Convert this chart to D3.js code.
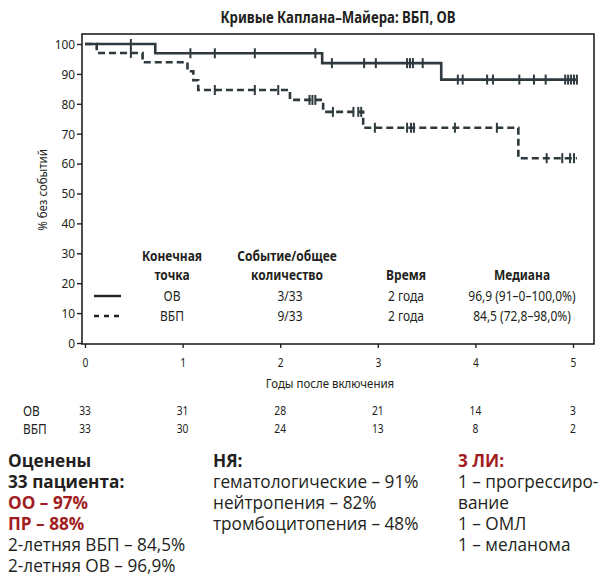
<!DOCTYPE html>
<html lang="ru">
<head>
<meta charset="UTF-8">
<title>Kaplan-Meier</title>
<script src="https://d3js.org/d3.v7.min.js"></script>
<style>
  body { margin: 0; background: #fff; }
  svg { display: block; }
  text { font-family: "Noto Sans", "Open Sans", sans-serif; fill: #231f20; }
  .body { font-family: "Open Sans", "Noto Sans", sans-serif; }
</style>
</head>
<body>
<svg width="601" height="576"></svg>
<script>
// --- data ---
const years = [0, 1, 2, 3, 4, 5];
const yTicks = [0, 10, 20, 30, 40, 50, 60, 70, 80, 90, 100];
const riskRows = ["ОВ", "ВБП"];
const atRiskOS = [33, 31, 28, 21, 14, 3];
const atRiskPFS = [33, 30, 24, 13, 8, 2];

// OS (solid)
const osTimes = [0, 0.72, 2.43, 3.65];
const osSurv = [100, 96.9, 93.6, 88.1];
const osEnd = 5.04;
const osCensor = [0.47, 1.08, 1.33, 1.74, 2.36, 2.53, 2.86, 2.98, 3.30, 3.33, 3.36, 3.46,
  3.82, 3.87, 4.12, 4.18, 4.45, 4.60, 4.72, 4.92, 4.95, 4.98, 5.01, 5.04];

// PFS (dashed)
const pfsTimes = [0, 0.12, 0.59, 1.05, 1.11, 1.16, 2.10, 2.44, 2.85, 4.44];
const pfsSurv = [100, 97.0, 93.9, 90.9, 87.9, 84.6, 81.3, 77.3, 72.0, 61.8];
const pfsEnd = 5.04;
const pfsCensor = [0.47, 1.33, 1.74, 1.98, 2.30, 2.33, 2.36, 2.54, 2.75, 2.80, 2.83, 2.97,
  3.30, 3.34, 3.37, 3.79, 4.22, 4.73, 4.89, 4.97, 5.01];

// legend table
const legHeaders = [["Конечная", "точка"], ["Событие/общее", "количество"], ["", "Время"], ["", "Медиана"]];
const legOS = ["ОВ", "3/33", "2 года", "96,9 (91–0–100,0%)"];
const legPFS = ["ВБП", "9/33", "2 года", "84,5 (72,8–98,0%)"];

// text block under the chart
const col1 = [["Оценены", "b"], ["33 пациента:", "b"], ["ОО – 97%", "r"], ["ПР – 88%", "r"],
  ["2-летняя ВБП – 84,5%", "n"], ["2-летняя ОВ – 96,9%", "n"]];
const col2 = [["НЯ:", "b"], ["гематологические – 91%", "n"], ["нейтропения – 82%", "n"],
  ["тромбоцитопения – 48%", "n"]];
const col3 = [["3 ЛИ:", "r"], ["1 – прогрессиро-", "n"], ["вание", "n"], ["1 – ОМЛ", "n"],
  ["1 – меланома", "n"]];

const ink = "#2f3a3e";
const red = "#a11d22";
const svg = d3.select("svg");

const x = d3.scaleLinear().domain([0, 5]).range([85, 573]);
const y = d3.scaleLinear().domain([0, 100]).range([343, 44]);

// narrow text: the original uses a condensed face, so squeeze a normal one
function ctext(px, py, str, size, k, opts = {}) {
  const t = svg.append("g").attr("transform", `translate(${px},${py})`)
    .append("text").attr("transform", `scale(${k},1)`)
    .attr("text-anchor", opts.anchor || "middle")
    .style("font-size", size + "px")
    .style("font-weight", opts.bold ? "bold" : "normal")
    .text(str);
  if (opts.fill) t.style("fill", opts.fill);
  if (opts.cls) t.attr("class", opts.cls);
  return t;
}

// title
ctext(338, 23, "Кривые Каплана–Майера: ВБП, ОВ", 16.5, 0.8, { bold: true });

// frame
svg.append("rect").attr("x", 82).attr("y", 34).attr("width", 512).attr("height", 310)
  .attr("fill", "none").attr("stroke", "#222").attr("stroke-width", 1.6);

// axes
const yAxis = svg.append("g").attr("transform", "translate(82,0)")
  .call(d3.axisLeft(y).tickValues(yTicks).tickSize(5));
const xAxis = svg.append("g").attr("transform", "translate(0,344)")
  .call(d3.axisBottom(x).tickValues(years).tickFormat(d3.format("d")).tickSize(4));
[yAxis, xAxis].forEach(g => {
  g.select(".domain").remove();
  g.attr("font-family", null).attr("font-size", null);
  g.selectAll("line").attr("stroke", "#222").attr("stroke-width", 1.4);
});
yAxis.selectAll("text").attr("transform", "scale(0.88,1)").attr("x", -7 / 0.88)
  .style("font-size", "13.5px");
xAxis.selectAll("text").attr("transform", "scale(0.85,1)").attr("y", 14)
  .style("font-size", "12px");

const yl = ctext(0, 0, "% без событий", 13.5, 0.85);
d3.select(yl.node().parentNode).attr("transform", "translate(47,190) rotate(-90)");
ctext(330, 388, "Годы после включения", 13.5, 0.85);

// curves
function stepData(times, surv, end) {
  const pts = times.map((t, i) => [t, surv[i]]);
  pts.push([end, surv[surv.length - 1]]);
  return pts;
}
function survAt(times, surv, t) {
  return surv[d3.bisectRight(times, t) - 1];
}
const line = d3.line().x(d => x(d[0])).y(d => y(d[1])).curve(d3.curveStepAfter);

const curves = [
  { times: osTimes, surv: osSurv, end: osEnd, cens: osCensor, dash: null },
  { times: pfsTimes, surv: pfsSurv, end: pfsEnd, cens: pfsCensor, dash: "7,4" }
];
curves.forEach(c => {
  svg.append("path").datum(stepData(c.times, c.surv, c.end))
    .attr("d", line).attr("fill", "none").attr("stroke", ink)
    .attr("stroke-width", 2.6).attr("stroke-dasharray", c.dash);
  svg.append("g").selectAll("line").data(c.cens).join("line")
    .attr("x1", d => x(d)).attr("x2", d => x(d))
    .attr("y1", d => y(survAt(c.times, c.surv, d)) - 5)
    .attr("y2", d => y(survAt(c.times, c.surv, d)) + 5)
    .attr("stroke", ink).attr("stroke-width", 2);
});

// legend table inside the plot
const legX = [172, 287, 406, 522];
legHeaders.forEach((h, i) => {
  h.forEach((s, j) => {
    if (s) ctext(legX[i], 261 + j * 19, s, 15, 0.8, { bold: true });
  });
});
[legOS, legPFS].forEach((row, r) => {
  const yy = 301 + r * 20;
  svg.append("line").attr("x1", 94).attr("x2", 121).attr("y1", yy - 5).attr("y2", yy - 5)
    .attr("stroke", "#222").attr("stroke-width", 2.4)
    .attr("stroke-dasharray", r ? "5,5" : null);
  row.forEach((s, i) => ctext(legX[i] + (i === 1 ? 3 : 0), yy, s, 15, 0.8));
});

// numbers at risk
[atRiskOS, atRiskPFS].forEach((vals, r) => {
  const yy = 416 + r * 18;
  ctext(23, yy, riskRows[r], 14.5, 0.82, { anchor: "start" });
  vals.forEach((v, i) => ctext(x(years[i]), yy - 1, v, 12.5, 0.82));
});

// text columns
[[col1, 8], [col2, 213], [col3, 458]].forEach(([lines, x0]) => {
  lines.forEach(([s, kind], i) => {
    ctext(x0, 467 + i * 21, s, 18.5, 0.93, {
      anchor: "start", cls: "body", bold: kind !== "n", fill: kind === "r" ? red : null
    });
  });
});
</script>
</body>
</html>
